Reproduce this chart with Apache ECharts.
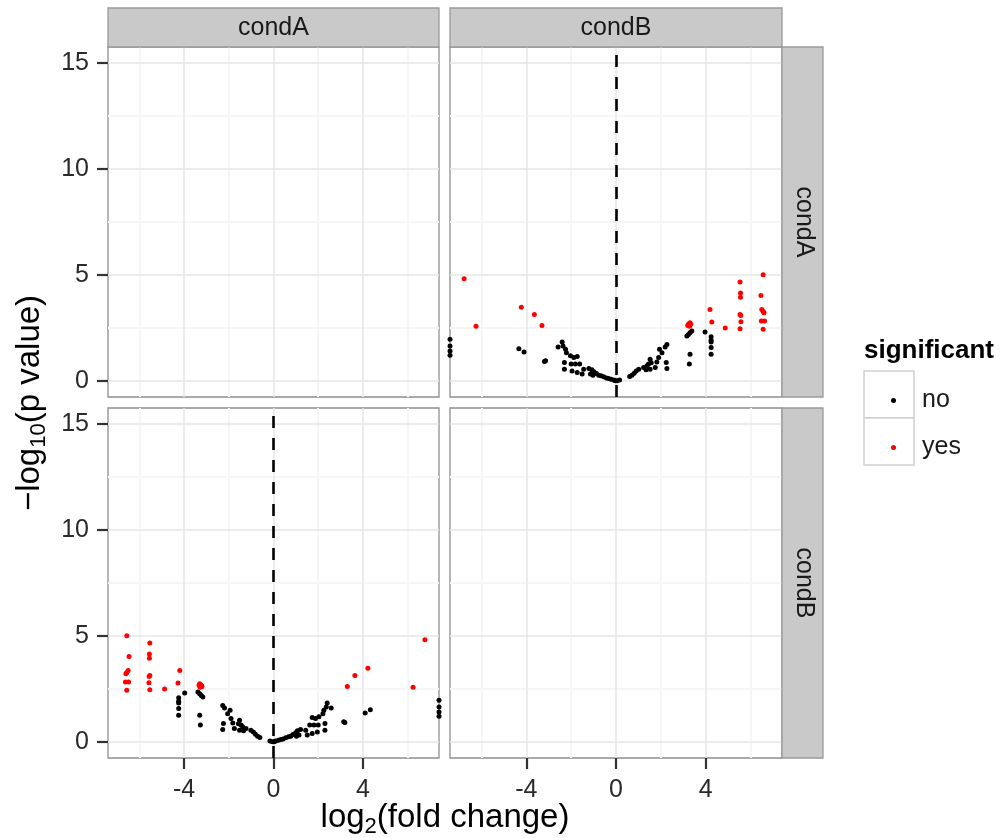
<!DOCTYPE html>
<html><head><meta charset="utf-8">
<script src="https://cdn.jsdelivr.net/npm/echarts@6/dist/echarts.min.js"></script>
<style>html,body{margin:0;padding:0;background:#fff}#c{width:1007px;height:838px}</style>
</head><body><div id="c"></div>
<script>
// ---------------- data ----------------
const facetCols = ['condA', 'condB'];
const facetRows = ['condA', 'condB'];
const legendTitle = 'significant';
const legendLabels = ['no', 'yes'];
const xMajorTicks = [-4, 0, 4];
const xMinorTicks = [-6, -2, 2, 6];
const yMajorTicks = [0, 5, 10, 15];
const yMinorTicks = [2.5, 7.5, 12.5];
const xLimits = [-7.4, 7.4];
const yLimits = [-0.75, 15.75];
// [log2 fold change, -log10 p] for condB (column) vs condA (row)
const notSignificant = [
  [-7.4,1.97],[-7.4,1.65],[-7.4,1.42],[-7.4,1.22],
  [-4.33,1.53],[-4.10,1.37],[-3.19,0.92],[-3.14,0.96],
  [-2.40,1.84],[-2.58,1.61],[-2.36,1.65],[-2.25,1.50],[-2.21,1.34],[-2.03,1.19],[-1.88,1.11],[-1.73,1.16],
  [-2.30,0.88],[-2.00,0.80],[-1.81,0.80],[-1.62,0.80],[-2.30,0.56],[-1.96,0.48],[-1.73,0.41],[-1.51,0.33],
  [-1.44,0.56],[-1.21,0.59],[-1.07,0.53],[-0.99,0.44],[-1.14,0.33],[-1.03,0.28],[-0.87,0.36],[-0.77,0.28],
  [-0.67,0.25],[-0.55,0.20],[-0.43,0.15],[-0.33,0.12],[-0.22,0.09],[-0.10,0.05],[-0.03,0.02],[0.05,0.02],[0.16,0.05],
  [0.61,0.22],[0.71,0.28],[0.81,0.37],[0.90,0.48],[1.01,0.56],[1.23,0.64],[1.38,0.72],[1.45,0.80],[1.52,1.03],
  [1.57,0.86],[1.75,0.64],[1.82,0.90],[1.90,1.11],[1.94,1.50],[2.05,1.34],[2.19,1.61],[2.27,1.73],[2.24,0.88],[2.27,0.59],
  [1.52,0.56],[1.34,0.53],
  [3.16,2.12],[3.23,2.20],[3.30,2.28],[3.38,2.36],[3.30,1.26],[3.27,0.80],[3.97,2.31],
  [4.24,2.09],[4.24,1.93],[4.24,1.84],[4.24,1.58],[4.24,1.26]
];
const significant = [
  [-6.77,4.82],[-6.24,2.58],[-4.22,3.48],[-3.64,3.14],[-3.30,2.62],
  [3.20,2.62],[3.25,2.70],[3.30,2.75],[3.28,2.58],[3.22,2.66],[3.33,2.68],
  [4.19,3.37],[4.27,2.78],[4.87,2.50],
  [5.53,4.67],[5.55,4.15],[5.55,3.95],[5.53,3.14],[5.56,3.09],[5.57,2.80],[5.53,2.47],
  [6.56,5.01],[6.46,4.03],[6.50,3.37],[6.56,3.28],[6.60,3.22],[6.62,2.83],[6.48,2.83],[6.56,2.44]
];
// the reverse comparison (condA column vs condB row) has the opposite fold change
const reverseComparison = pts => pts.map(p => [-p[0], p[1]]);

// ---------------- layout ----------------
const FONT = '"Liberation Sans", Arial, Helvetica, sans-serif';
const colLeft = [108, 450], colWidth = [331, 332];
const rowTop = [47, 408], rowHeight = 350;
const stripTop = 8, stripH = 39, stripRightX = 782, stripW = 41;
const tickColor = '#333333';
const majorGrid = { color: '#E6E6E6', width: 1.5 };
const minorGrid = { color: '#F6F6F6', width: 2 };

const grids = [], xAxes = [], yAxes = [];
for (let i = 0; i < 4; i++) {
  const r = Math.floor(i / 2), c = i % 2;
  grids.push({ left: colLeft[c], top: rowTop[r], width: colWidth[c], height: rowHeight,
    show: true, backgroundColor: '#ffffff', borderColor: '#8f8f8f', borderWidth: 1.3, containLabel: false });
  xAxes.push({ gridIndex: i, type: 'value', min: xLimits[0], max: xLimits[1], position: 'bottom',
    axisLine: { show: false, onZero: false },
    axisTick: { show: r === 1, customValues: xMajorTicks, length: 11, lineStyle: { color: tickColor, width: 2.2 } },
    axisLabel: { show: r === 1, customValues: xMajorTicks, margin: 20, fontSize: 25, color: '#2a2a2a', fontFamily: FONT },
    splitLine: { show: true, lineStyle: majorGrid }, z: 1 });
  xAxes.push({ gridIndex: i, type: 'value', min: xLimits[0], max: xLimits[1], position: 'top',
    axisLine: { show: false, onZero: false }, axisTick: { show: false, customValues: xMinorTicks },
    axisLabel: { show: false }, splitLine: { show: true, lineStyle: minorGrid }, z: 0 });
  yAxes.push({ gridIndex: i, type: 'value', min: yLimits[0], max: yLimits[1], position: 'left',
    axisLine: { show: false, onZero: false },
    axisTick: { show: c === 0, customValues: yMajorTicks, length: 11, lineStyle: { color: tickColor, width: 2.2 } },
    axisLabel: { show: c === 0, customValues: yMajorTicks, margin: 19, fontSize: 25, color: '#2a2a2a', fontFamily: FONT },
    splitLine: { show: true, lineStyle: majorGrid }, z: 1 });
  yAxes.push({ gridIndex: i, type: 'value', min: yLimits[0], max: yLimits[1], position: 'right',
    axisLine: { show: false, onZero: false }, axisTick: { show: false, customValues: yMinorTicks },
    axisLabel: { show: false }, splitLine: { show: true, lineStyle: minorGrid }, z: 0 });
}

const zeroLine = {
  silent: true, symbol: ['none', 'none'], label: { show: false },
  lineStyle: { color: '#000', type: [12, 10], width: 2.6, opacity: 1 },
  emphasis: { disabled: true },
  data: [{ xAxis: 0 }], animation: false
};
function panelSeries(gridIdx, noPts, yesPts) {
  const ax = gridIdx * 2;
  return [
    { name: legendLabels[0], type: 'scatter', xAxisIndex: ax, yAxisIndex: ax, data: noPts,
      symbolSize: 5, itemStyle: { color: '#000000', opacity: 1 }, z: 3, markLine: zeroLine },
    { name: legendLabels[1], type: 'scatter', xAxisIndex: ax, yAxisIndex: ax, data: yesPts,
      symbolSize: 5, itemStyle: { color: '#FF0000', opacity: 1 }, z: 3 }
  ];
}
const series = [
  ...panelSeries(1, notSignificant, significant),
  ...panelSeries(2, reverseComparison(notSignificant), reverseComparison(significant))
];

const graphics = [];
facetCols.forEach((lab, c) => {
  graphics.push({ type: 'rect', shape: { x: colLeft[c], y: stripTop, width: colWidth[c], height: stripH },
    style: { fill: '#C9C9C9', stroke: '#9a9a9a', lineWidth: 1.3 }, z: 5 });
  graphics.push({ type: 'text', x: colLeft[c] + colWidth[c] / 2, y: stripTop + stripH / 2 + 1,
    style: { text: lab, fontSize: 25, fontFamily: FONT, fill: '#1a1a1a', align: 'center', verticalAlign: 'middle' }, z: 6 });
});
facetRows.forEach((lab, r) => {
  graphics.push({ type: 'rect', shape: { x: stripRightX, y: rowTop[r], width: stripW, height: rowHeight },
    style: { fill: '#C9C9C9', stroke: '#9a9a9a', lineWidth: 1.3 }, z: 5 });
  graphics.push({ type: 'text', x: stripRightX + stripW / 2 + 1, y: rowTop[r] + rowHeight / 2, rotation: -Math.PI / 2,
    style: { text: lab, fontSize: 25, fontFamily: FONT, fill: '#1a1a1a', align: 'center', verticalAlign: 'middle' }, z: 6 });
});
// axis titles
const titleRich = {
  m: { fontSize: 33, fontFamily: FONT, fill: '#000', lineHeight: 40, verticalAlign: 'middle' },
  s: { fontSize: 22, fontFamily: FONT, fill: '#000', lineHeight: 22, verticalAlign: 'bottom' }
};
graphics.push({ type: 'text', x: 445, y: 818,
  style: { text: '{m|log}{s|2}{m|(fold change)}', align: 'center', verticalAlign: 'middle', rich: titleRich }, z: 6 });
graphics.push({ type: 'text', x: 30, y: 403, rotation: Math.PI / 2,
  style: { text: '{m|\u2212log}{s|10}{m|(p value)}', align: 'center', verticalAlign: 'middle', rich: titleRich }, z: 6 });
// legend title and key boxes
graphics.push({ type: 'text', x: 864, y: 351,
  style: { text: legendTitle, fontSize: 26, fontWeight: 'bold', fontFamily: FONT, fill: '#000', align: 'left', verticalAlign: 'middle' }, z: 6 });
graphics.push({ type: 'rect', shape: { x: 864, y: 371, width: 50, height: 47 }, style: { fill: '#fff', stroke: '#cfcfcf', lineWidth: 1.5 }, z: 1 });
graphics.push({ type: 'rect', shape: { x: 864, y: 418, width: 50, height: 47 }, style: { fill: '#fff', stroke: '#cfcfcf', lineWidth: 1.5 }, z: 1 });

const legendBase = { orient: 'vertical', itemWidth: 5, itemHeight: 5, icon: 'circle', selectedMode: false,
  textStyle: { fontSize: 25, fontFamily: FONT, color: '#1a1a1a', padding: [0, 0, 0, 21], lineHeight: 24 } };

const chart = echarts.init(document.getElementById('c'), null, { renderer: 'canvas' });
chart.setOption({
  animation: false,
  backgroundColor: '#ffffff',
  grid: grids, xAxis: xAxes, yAxis: yAxes, series: series,
  legend: [
    Object.assign({}, legendBase, { data: [legendLabels[0]], left: 886, top: 383 }),
    Object.assign({}, legendBase, { data: [legendLabels[1]], left: 886, top: 430 })
  ],
  graphic: graphics
});
</script></body></html>
